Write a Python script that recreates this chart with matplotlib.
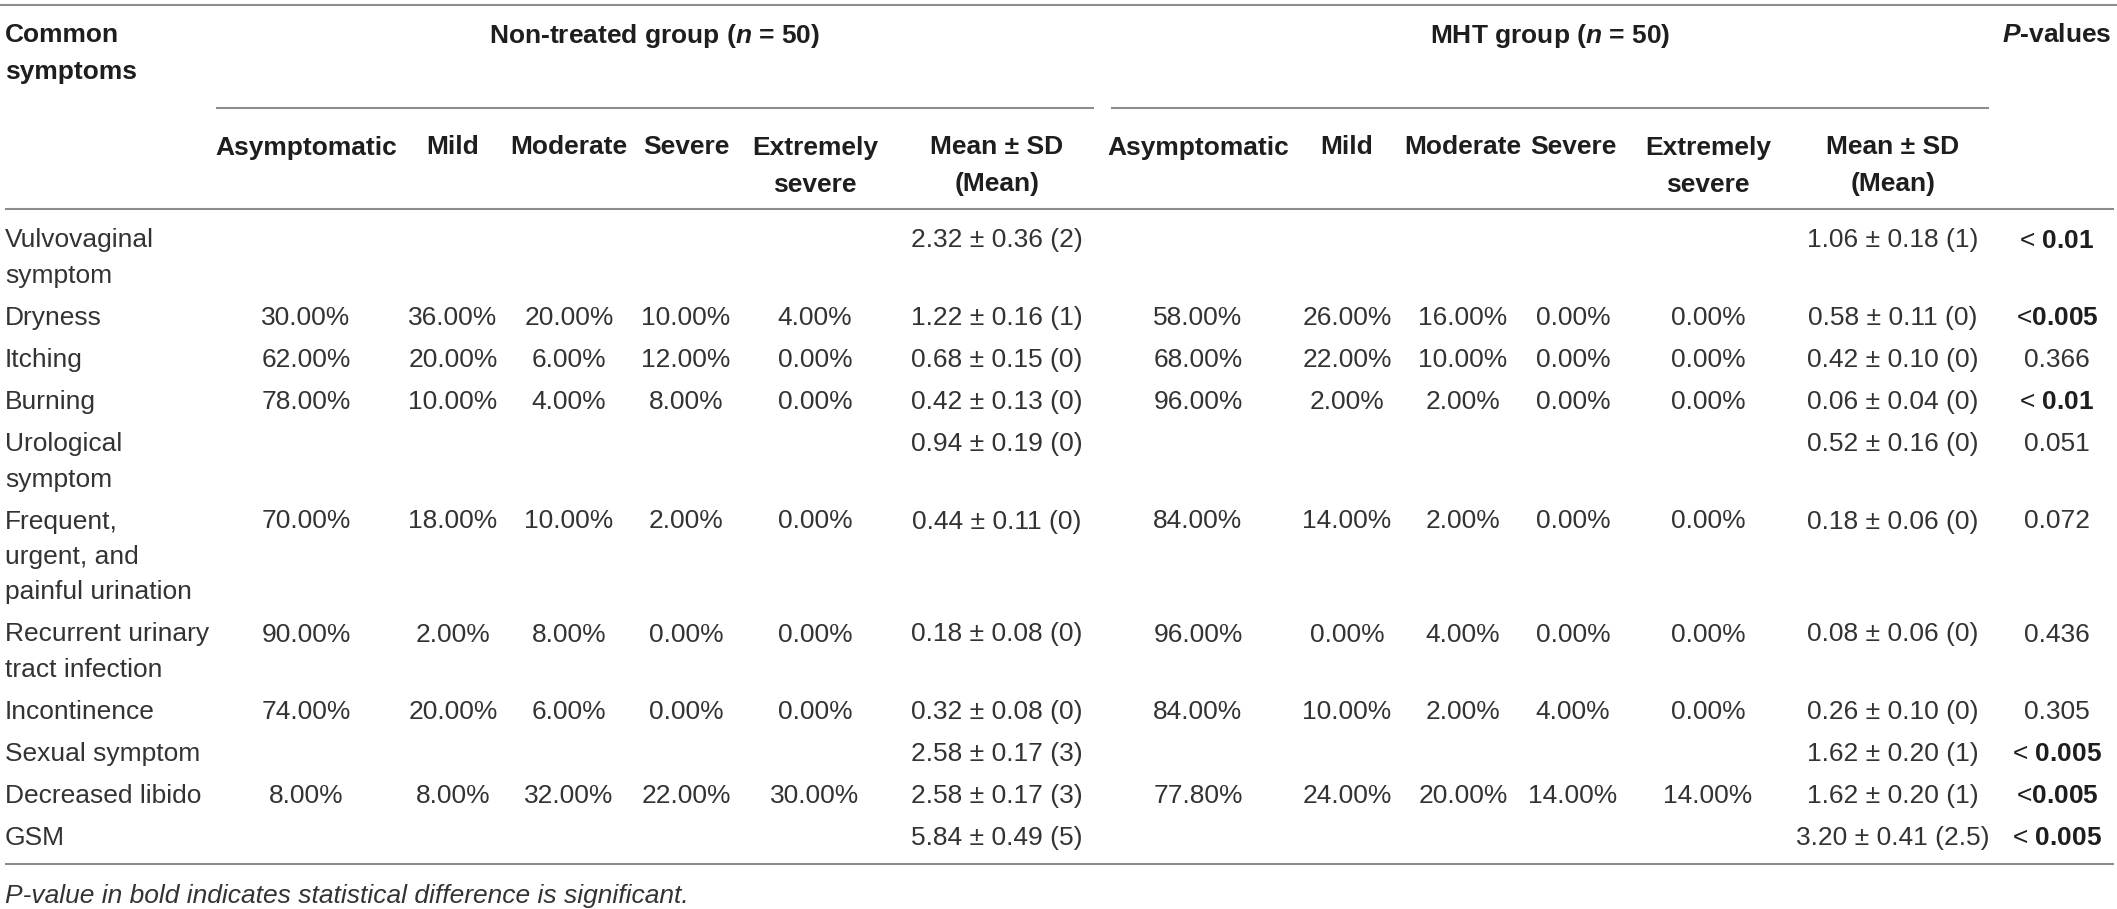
import matplotlib
matplotlib.use("Agg")
import matplotlib.pyplot as plt

plt.rcParams['font.family'] = ['Liberation Sans', 'DejaVu Sans']
plt.rcParams['mathtext.fontset'] = 'custom'
plt.rcParams['mathtext.rm'] = 'Liberation Sans'
plt.rcParams['mathtext.bf'] = 'Liberation Sans:bold'
plt.rcParams['mathtext.it'] = 'Liberation Sans:italic:bold'

# Dane tabeli
symptom_labels = ["Vulvovaginal\nsymptom", "Dryness", "Itching", "Burning",
                  "Urological\nsymptom", "Frequent,\nurgent, and\npainful urination",
                  "Recurrent urinary\ntract infection", "Incontinence",
                  "Sexual symptom", "Decreased libido", "GSM"]
severity_levels = ["Asymptomatic", "Mild", "Moderate", "Severe", "Extremely\nsevere"]

nt_pct = [None, [30, 36, 20, 10, 4], [62, 20, 6, 12, 0], [78, 10, 4, 8, 0], None,
          [70, 18, 10, 2, 0], [90, 2, 8, 0, 0], [74, 20, 6, 0, 0], None,
          [8, 8, 32, 22, 30], None]
mht_pct = [None, [58, 26, 16, 0, 0], [68, 22, 10, 0, 0], [96, 2, 2, 0, 0], None,
           [84, 14, 2, 0, 0], [96, 0, 4, 0, 0], [84, 10, 2, 4, 0], None,
           [77.8, 24, 20, 14, 14], None]

nt_mean = [2.32, 1.22, 0.68, 0.42, 0.94, 0.44, 0.18, 0.32, 2.58, 2.58, 5.84]
nt_sd = [0.36, 0.16, 0.15, 0.13, 0.19, 0.11, 0.08, 0.08, 0.17, 0.17, 0.49]
nt_median = ["2", "1", "0", "0", "0", "0", "0", "0", "3", "3", "5"]
mht_mean = [1.06, 0.58, 0.42, 0.06, 0.52, 0.18, 0.08, 0.26, 1.62, 1.62, 3.20]
mht_sd = [0.18, 0.11, 0.10, 0.04, 0.16, 0.06, 0.06, 0.10, 0.20, 0.20, 0.41]
mht_median = ["1", "0", "0", "0", "0", "0", "0", "0", "1", "1", "2.5"]

p_values = ["< 0.01", "<0.005", "0.366", "< 0.01", "0.051", "0.072", "0.436",
            "0.305", "< 0.005", "<0.005", "< 0.005"]
p_significant = [True, True, False, True, False, False, False, False, True, True, True]

footnote = "P-value in bold indicates statistical difference is significant."

# Układ (piksele)
W, H = 2117, 909
FS = 19
BODY = '#333333'
HEAD = '#1e1e1e'
RULE = '#8c8c8c'
nt_cols = [306, 453, 569, 686, 815]
nt_mean_x = 997
mht_cols = [1198, 1347, 1463, 1573, 1708]
mht_mean_x = 1893
p_x = 2057
label_x = 5
row_pitch = 42
line_gap = 35.5
base_off = 9.5

fig = plt.figure(figsize=(W / 100, H / 100), dpi=100)
ax = fig.add_axes([0, 0, 1, 1])
ax.set_xlim(0, W)
ax.set_ylim(H, 0)
ax.axis('off')


def put(x, y, s, ha='center', bold=False, color=BODY, style='normal'):
    ax.text(x, y + base_off, s, ha=ha, va='baseline', fontsize=FS,
            fontweight='bold' if bold else 'normal', color=color, fontstyle=style)


def rule(y, x0, x1):
    ax.plot([x0, x1], [y, y], color=RULE, lw=1.5, solid_capstyle='butt')


# linie
rule(5, 0, W)
rule(108, 216, 1094)
rule(108, 1111, 1989)
rule(209, 5, 2114)
rule(864, 5, 2114)

# nagłówki
put(label_x, 33, "Common", ha='left', bold=True, color=HEAD)
put(label_x, 70, "symptoms", ha='left', bold=True, color=HEAD)
put(655, 33, r"Non-treated group ($\mathit{n}$ = 50)", bold=True, color=HEAD)
put(1550, 33, r"MHT group ($\mathit{n}$ = 50)", bold=True, color=HEAD)
put(p_x, 33, r"$\mathit{P}$-values", bold=True, color=HEAD)

for cols, mx in [(nt_cols, nt_mean_x), (mht_cols, mht_mean_x)]:
    for cx, name in zip(cols, severity_levels):
        for k, part in enumerate(name.split("\n")):
            put(cx, 145 + k * 37, part, bold=True, color=HEAD)
    put(mx, 145, "Mean ± SD", bold=True, color=HEAD)
    put(mx, 182, "(Mean)", bold=True, color=HEAD)

# wiersze
y = 238
for i, label in enumerate(symptom_labels):
    lines = label.split("\n")
    for k, part in enumerate(lines):
        put(label_x, y + k * line_gap, part, ha='left')
    if nt_pct[i] is not None:
        for cx, v in zip(nt_cols, nt_pct[i]):
            put(cx, y, f"{v:.2f}%")
    if mht_pct[i] is not None:
        for cx, v in zip(mht_cols, mht_pct[i]):
            put(cx, y, f"{v:.2f}%")
    put(nt_mean_x, y, f"{nt_mean[i]:.2f} ± {nt_sd[i]:.2f} ({nt_median[i]})")
    put(mht_mean_x, y, f"{mht_mean[i]:.2f} ± {mht_sd[i]:.2f} ({mht_median[i]})")
    pv = p_values[i]
    if p_significant[i]:
        sign = "<" if pv.startswith("<") else ""
        num = pv.lstrip("<").strip()
        gap = " " if pv.startswith("< ") else ""
        put(p_x, y, sign + gap + r"$\mathbf{" + num + "}$", color=HEAD)
    else:
        put(p_x, y, pv)
    y += row_pitch + line_gap * (len(lines) - 1)

put(label_x, 893, footnote, ha='left', style='italic')

fig.savefig("out.png", dpi=100)
